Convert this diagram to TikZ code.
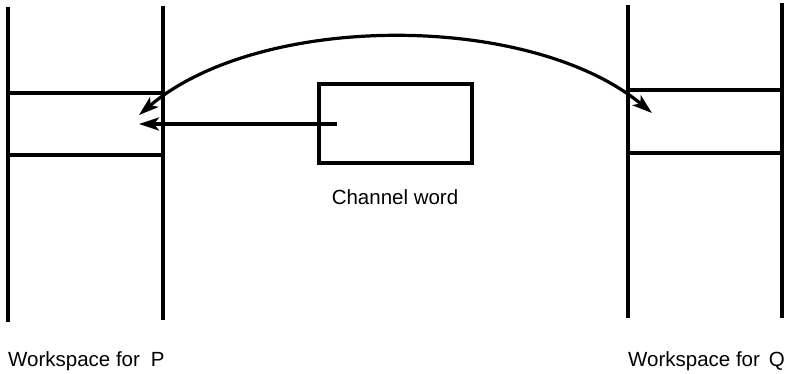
\documentclass[tikz,border=0pt]{standalone}
\usepackage{fontspec}
\setmainfont{Liberation Sans}
\usetikzlibrary{arrows.meta}
\begin{document}
\begin{tikzpicture}[x=1pt,y=-1pt,
  wall/.style={line width=3.2pt},
  head/.tip={Stealth[length=20pt,width=13pt,inset=5pt]},
  link/.style={line width=3.2pt},
  caption/.style={font=\fontsize{20.5}{24}\selectfont,inner sep=0pt}]
\useasboundingbox (0,0) rectangle (792,373);
% workspace of P
\draw[wall] (8,7) -- (8,322);
\draw[wall] (163,6) -- (163,320);
\draw[wall] (8,93) -- (163,93);
\draw[wall] (8,155) -- (163,155);
% workspace of Q
\draw[wall] (628,5) -- (628,318);
\draw[wall] (782,3) -- (782,318);
\draw[wall] (628,90) -- (782,90);
\draw[wall] (628,153) -- (782,153);
% channel word
\node[draw,line width=3.2pt,minimum width=153pt,minimum height=79pt,inner sep=0pt] (chan) at (395.5,123.5) {};
\node[caption,anchor=base] (chanlbl) at (395,204) {Channel word};
% arrow ends
\coordinate (src) at (337,124);
\coordinate (ptip) at (139,124);
\coordinate (pend) at (139,115);
\coordinate (qend) at (652,113);
\draw[link,-head] (src) -- (ptip);
\draw[link,head-head]
  (pend) .. controls (260,12) and (530,12) .. (qend);
% captions
\node[caption,anchor=base west] (plbl) at (8,366) {Workspace for\hspace{11pt}P};
\node[caption,anchor=base west] (qlbl) at (628,366) {Workspace for\hspace{9pt}Q};
\end{tikzpicture}
\end{document}
